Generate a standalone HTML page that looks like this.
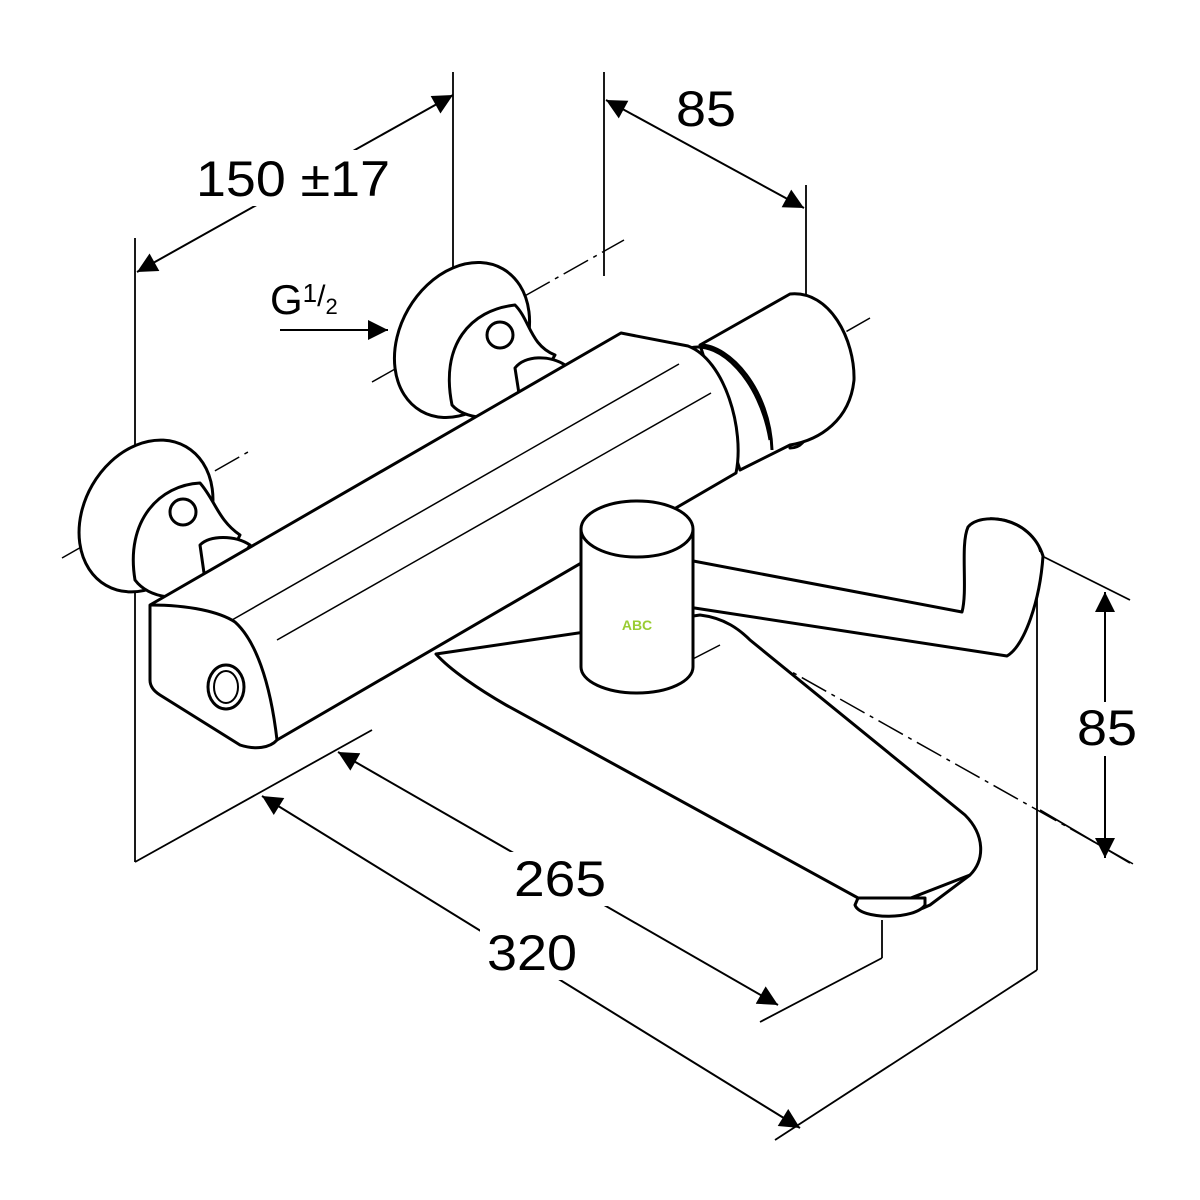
<!DOCTYPE html>
<html><head><meta charset="utf-8"><style>html,body{margin:0;padding:0;background:#fff}svg{display:block}</style></head>
<body>
<svg width="1200" height="1200" viewBox="0 0 1200 1200" xmlns="http://www.w3.org/2000/svg" font-family="Liberation Sans, sans-serif">
<defs>
<marker id="a" viewBox="0 0 10 10" refX="10" refY="5" markerWidth="40" markerHeight="20" markerUnits="userSpaceOnUse" orient="auto-start-reverse"><path d="M0,0 L10,5 L0,10z" fill="#000"/></marker>
</defs>
<g stroke="#000" fill="none" stroke-width="1.8">
<line x1="135" y1="238" x2="135" y2="862"/>
<line x1="453" y1="72" x2="453" y2="418"/>
<line x1="604" y1="72" x2="604" y2="276"/>
<line x1="806" y1="185" x2="806" y2="378"/>
<line x1="1037" y1="570" x2="1037" y2="970"/>
<line x1="1040" y1="555" x2="1130" y2="600"/>
<line x1="1040" y1="810" x2="1130" y2="863"/>
<line x1="135" y1="862" x2="372" y2="730"/>
<line x1="760" y1="1022" x2="882" y2="958"/>
<line x1="882" y1="958" x2="882" y2="920"/>
<line x1="775" y1="1140" x2="1037" y2="970"/>
<line x1="137" y1="272" x2="453" y2="95" marker-start="url(#a)" marker-end="url(#a)" stroke-width="2"/>
<line x1="606" y1="100" x2="804" y2="208" marker-start="url(#a)" marker-end="url(#a)" stroke-width="2"/>
<line x1="1105" y1="592" x2="1105" y2="858" marker-start="url(#a)" marker-end="url(#a)" stroke-width="2"/>
<line x1="338" y1="752" x2="778" y2="1005" marker-start="url(#a)" marker-end="url(#a)" stroke-width="2"/>
<line x1="262" y1="796" x2="800" y2="1128" marker-start="url(#a)" marker-end="url(#a)" stroke-width="2"/>
<line x1="280" y1="330" x2="388" y2="330" marker-end="url(#a)" stroke-width="2"/>
<g stroke-dasharray="28,6,4,6" stroke-width="1.5">
<line x1="62" y1="558" x2="248" y2="452"/>
<line x1="372" y1="382" x2="624" y2="240"/>
<line x1="770" y1="375" x2="870" y2="318"/>
<line x1="495" y1="505" x2="1135" y2="865"/>
</g>
</g>
<g stroke="#000" fill="#fff" stroke-width="3" stroke-linejoin="round">
<ellipse cx="146" cy="516" rx="62" ry="80" transform="rotate(30 146 516)"/>
<path d="M135,580 C125,520 160,485 200,483 C215,500 218,520 240,535 L210,595 C180,600 150,600 135,580z"/>
<circle cx="183" cy="512" r="13"/>
<path d="M200,545 C210,535 235,535 250,545 L225,585 L205,580z"/>
<ellipse cx="462" cy="340" rx="62" ry="82" transform="rotate(30 462 340)"/>
<path d="M452,405 C440,345 470,310 515,305 C530,320 530,345 555,355 L520,415 C495,420 465,420 452,405z"/>
<circle cx="500" cy="335" r="13"/>
<path d="M515,368 C525,355 550,355 565,365 L540,405 L520,400z"/>
<path d="M790,448 C800,448 808,440 806,430 L790,430z"/>
<path d="M700,345 L790,294 C830,290 855,340 854,380 C850,420 820,440 790,445 L740,470z"/>
<path d="M690,348 C720,340 760,380 770,440" fill="none"/>
<path d="M700,345 C730,345 770,390 772,450" fill="none"/>
<path d="M436,654 L700,615 C725,618 740,630 750,640 L965,815 C985,835 985,860 970,875 L930,905 C910,915 890,915 880,910 L506,705 C480,690 450,670 436,654z"/>
<path d="M880,910 L970,875" fill="none"/>
<path d="M855,905 C860,920 915,920 925,905 L925,898 L858,898z"/>
<path d="M652,680 L720,645" fill="none" stroke-width="1.5"/>
<path d="M150,605 L621,333 L688,346 C725,360 745,430 736,473 L277,740 C270,748 255,750 240,745 L160,695 C152,690 150,685 150,680z"/>
<path d="M150,605 C190,605 220,612 235,622 C255,640 270,680 277,740" fill="none"/>
<line x1="232" y1="620" x2="679" y2="364" stroke-width="1.5"/>
<line x1="277" y1="640" x2="711" y2="393" stroke-width="1.5"/>
<ellipse cx="226" cy="687" rx="18" ry="22"/>
<ellipse cx="226" cy="687" rx="12" ry="16" stroke-width="2"/>
<path d="M688,560 L962,612 C968,590 960,545 968,527 C980,512 1030,515 1043,556 C1040,600 1025,645 1007,656 L688,607z"/>
<path d="M990,518 C1015,518 1035,532 1040,552" fill="none" stroke-width="1.5"/>
<ellipse cx="637" cy="667" rx="56" ry="26"/>
<rect x="581" y="529" width="112" height="138" stroke="none"/>
<line x1="581" y1="529" x2="581" y2="667"/>
<line x1="693" y1="529" x2="693" y2="667"/>
<ellipse cx="637" cy="529" rx="56" ry="28"/>
</g>
<g fill="#fff">
<rect x="190" y="150" width="206" height="56"/>
<rect x="506" y="852" width="108" height="54"/>
<rect x="480" y="926" width="104" height="54"/>
<rect x="1072" y="702" width="70" height="54"/>
</g>
<text x="637" y="630" font-size="14" font-weight="bold" fill="#9c3" text-anchor="middle">ABC</text>
<g font-size="50" fill="#000">
<text x="196" y="196" textLength="194" lengthAdjust="spacingAndGlyphs">150 ±17</text>
<text x="676" y="126" textLength="60" lengthAdjust="spacingAndGlyphs">85</text>
<text x="1077" y="745" textLength="60" lengthAdjust="spacingAndGlyphs">85</text>
<text x="514" y="896" textLength="92" lengthAdjust="spacingAndGlyphs">265</text>
<text x="487" y="970" textLength="90" lengthAdjust="spacingAndGlyphs">320</text>
<text x="270" y="314" font-size="42">G<tspan font-size="26" dy="-12">1</tspan><tspan font-size="30" dy="4">/</tspan><tspan font-size="22" dy="8">2</tspan></text>
</g>
</svg>
</body></html>
